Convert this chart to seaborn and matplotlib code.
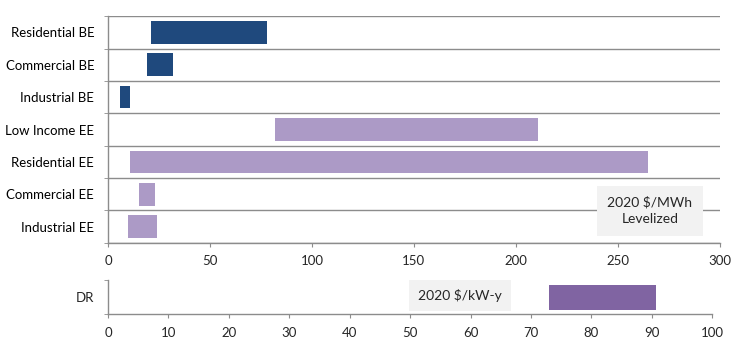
import numpy as np
import pandas as pd
import matplotlib
matplotlib.use('Agg')
import matplotlib.pyplot as plt
import seaborn as sns

sns.set_style('white')
plt.rcParams['font.family'] = ['Lato', 'DejaVu Sans']

# levelized cost ranges, 2020 $/MWh
programs = ['Residential BE', 'Commercial BE', 'Industrial BE', 'Low Income EE',
            'Residential EE', 'Commercial EE', 'Industrial EE']
low = [21, 19, 6, 82, 11, 15, 10]
high = [78, 32, 11, 211, 265, 23, 24]
kind = ['BE', 'BE', 'BE', 'EE', 'EE', 'EE', 'EE']

# demand response, 2020 $/kW-y
dr_label = ['DR']
dr_low = [73]
dr_high = [90.7]

colors = {'BE': '#1F497D', 'EE': '#AC9AC6'}
dr_color = '#8064A2'
grid_c = '#8C8C8C'

df = pd.DataFrame({'program': programs, 'low': low, 'high': high, 'kind': kind})
df['span'] = df['high'] - df['low']
dr = pd.DataFrame({'program': dr_label, 'low': dr_low, 'high': dr_high})
dr['span'] = dr['high'] - dr['low']

fig = plt.figure(figsize=(7.45, 3.51), dpi=100)
ax = fig.add_axes([0.145, 0.308, 0.821, 0.646])
ax2 = fig.add_axes([0.145, 0.105, 0.811, 0.097])

sns.barplot(data=df, x='span', y='program', left=df['low'], color=colors['BE'],
            width=0.7, errorbar=None, ax=ax)
for p, k in zip(ax.patches, df['kind']):
    p.set_facecolor(colors[k])
    p.set_edgecolor('none')

fs = 9.5
ax.set_xlim(0, 300)
ax.set_ylim(6.5, -0.5)
ax.set_xticks(np.arange(0, 301, 50))
ax.set_yticks(np.arange(-0.5, 7, 1), minor=True)
ax.grid(True, which='minor', axis='y', color=grid_c, linewidth=1)
ax.grid(False, which='major')
ax.tick_params(axis='y', which='major', length=0, pad=10, labelsize=fs, labelcolor='black')
ax.tick_params(axis='y', which='minor', length=3, color=grid_c, direction='out', left=True)
ax.tick_params(axis='x', length=3, color=grid_c, direction='out', bottom=True, labelsize=fs, pad=6)
ax.set_xlabel('')
ax.set_ylabel('')
for s in ['top', 'right']:
    ax.spines[s].set_visible(False)
for s in ['left', 'bottom']:
    ax.spines[s].set_color(grid_c)
    ax.spines[s].set_linewidth(1)
ax.text(0.886, 0.141, '2020 $/MWh\nLevelized', transform=ax.transAxes,
        ha='center', va='center', fontsize=10, linespacing=1.45,
        bbox=dict(boxstyle='square,pad=0.75', facecolor='#F2F2F2', edgecolor='none'))

sns.barplot(data=dr, x='span', y='program', left=dr['low'], color=dr_color,
            width=0.74, errorbar=None, ax=ax2)
for p in ax2.patches:
    p.set_facecolor(dr_color)
    p.set_edgecolor('none')
ax2.set_xlim(0, 100)
ax2.set_ylim(0.5, -0.5)
ax2.set_xticks(np.arange(0, 101, 10))
ax2.set_yticks([-0.5, 0.5], minor=True)
ax2.tick_params(axis='y', which='major', length=0, pad=10, labelsize=fs)
ax2.tick_params(axis='y', which='minor', length=3, color=grid_c, direction='out', left=True)
ax2.tick_params(axis='x', length=3, color=grid_c, direction='out', bottom=True, labelsize=fs, pad=6)
ax2.set_xlabel('')
ax2.set_ylabel('')
for s in ['top', 'right']:
    ax2.spines[s].set_visible(False)
for s in ['left', 'bottom']:
    ax2.spines[s].set_color(grid_c)
    ax2.spines[s].set_linewidth(1)
ax2.text(0.582, 0.54, '2020 $/kW-y', transform=ax2.transAxes,
         ha='center', va='center', fontsize=10,
         bbox=dict(boxstyle='square,pad=0.65', facecolor='#F2F2F2', edgecolor='none'))

fig.savefig('out.png', dpi=100)
